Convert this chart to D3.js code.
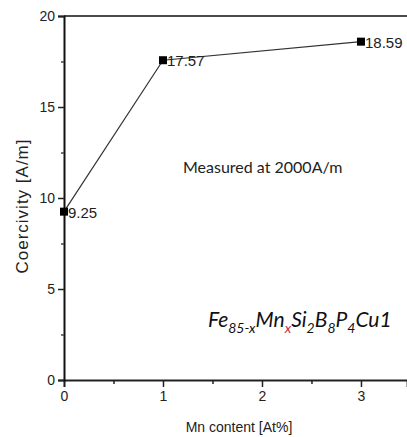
<!DOCTYPE html>
<html><head><meta charset="utf-8">
<script src="https://cdn.jsdelivr.net/npm/d3@7"></script>
<style>body{margin:0;background:#fff}svg{display:block}</style>
</head><body>
<script>
const mnContent = [0, 1, 3];
const coercivity = [9.25, 17.57, 18.59];
const pointLabels = ["9.25", "17.57", "18.59"];
const xTicks = [0, 1, 2, 3];
const yTicks = [0, 5, 10, 15, 20];

const W = 407, H = 437;
const svg = d3.select("body").append("svg").attr("width", W).attr("height", H);
const x = d3.scaleLinear().domain([0, 3.465]).range([64, 407]);
const y = d3.scaleLinear().domain([0, 20]).range([380, 16]);
const tickFont = "Liberation Sans, Arial, sans-serif";

// top border
svg.append("line").attr("x1", x(0)).attr("x2", W).attr("y1", y(20)).attr("y2", y(20))
  .attr("stroke", "#111").attr("stroke-width", 1.6);

// x axis
const xa = svg.append("g").attr("transform", `translate(0,${y(0)})`)
  .call(d3.axisBottom(x).tickValues(xTicks).tickSize(7).tickPadding(4).tickFormat(d3.format("d")));
xa.select(".domain").attr("stroke", "#222").attr("stroke-width", 1.8);
xa.selectAll(".tick line").attr("stroke", "#222").attr("stroke-width", 1.5);
xa.selectAll("text").attr("font-family", tickFont).attr("font-size", 14).attr("fill", "#222");
const xm = svg.append("g").attr("transform", `translate(0,${y(0)})`)
  .call(d3.axisBottom(x).tickValues([0.5, 1.5, 2.5]).tickSize(4).tickFormat(""));
xm.select(".domain").remove();
xm.selectAll(".tick line").attr("stroke", "#222").attr("stroke-width", 1.5);

// y axis
const ya = svg.append("g").attr("transform", `translate(${x(0)},0)`)
  .call(d3.axisLeft(y).tickValues(yTicks).tickSize(6).tickPadding(3).tickFormat(d3.format("d")));
ya.select(".domain").attr("stroke", "#111").attr("stroke-width", 2);
ya.selectAll(".tick line").attr("stroke", "#222").attr("stroke-width", 1.5);
ya.selectAll("text").attr("font-family", tickFont).attr("font-size", 14).attr("fill", "#222");
const ym = svg.append("g").attr("transform", `translate(${x(0)},0)`)
  .call(d3.axisLeft(y).tickValues([2.5, 7.5, 12.5, 17.5]).tickSize(3).tickFormat(""));
ym.select(".domain").remove();
ym.selectAll(".tick line").attr("stroke", "#444").attr("stroke-width", 1.5);

// line
const pts = mnContent.map((d, i) => [d, coercivity[i]]);
svg.append("path").datum(pts)
  .attr("d", d3.line().x(d => x(d[0])).y(d => y(d[1])))
  .attr("fill", "none").attr("stroke", "#333").attr("stroke-width", 1.2);

// markers
svg.selectAll("rect.m").data(pts).enter().append("rect")
  .attr("x", d => x(d[0]) - 4).attr("y", d => y(d[1]) - 4)
  .attr("width", 8).attr("height", 8).attr("fill", "#000");

// labels
svg.selectAll("text.pl").data(pts).enter().append("text")
  .attr("x", d => x(d[0]) + 4).attr("y", d => y(d[1]) + 6)
  .attr("font-family", tickFont).attr("font-size", 15).attr("fill", "#222")
  .text((d, i) => pointLabels[i]);

// axis titles
svg.append("text").attr("transform", `translate(28,206) rotate(-90)`)
  .attr("text-anchor", "middle").attr("font-family", tickFont).attr("font-size", 17)
  .attr("letter-spacing", 1).attr("fill", "#222")
  .text("Coercivity [A/m]");
svg.append("text").attr("x", 239).attr("y", 432)
  .attr("text-anchor", "middle").attr("font-family", tickFont).attr("font-size", 14).attr("fill", "#222")
  .text("Mn content [At%]");

// annotation
svg.append("text").attr("x", 183).attr("y", 173)
  .attr("font-family", "Lato, 'Open Sans', sans-serif").attr("font-size", 16).attr("fill", "#222")
  .text("Measured at 2000A/m");

// formula
const f = svg.append("text").attr("x", 208).attr("y", 327)
  .attr("font-family", "Lato, 'Open Sans', sans-serif").attr("font-style", "italic")
  .attr("font-size", 21).attr("fill", "#111");
const parts = [["Fe", false, null], ["85-x", true, null], ["Mn", false, null], ["x", true, "#c0304a"],
  ["Si", false, null], ["2", true, null], ["B", false, null], ["8", true, null],
  ["P", false, null], ["4", true, null], ["Cu1", false, null]];
let prevSub = false;
parts.forEach(([t, sub, col]) => {
  const ts = f.append("tspan").text(t);
  if (sub) ts.attr("font-size", 14).attr("dy", prevSub ? 0 : 6);
  else ts.attr("dy", prevSub ? -6 : 0);
  if (col) ts.attr("fill", col);
  prevSub = sub;
});
</script>
</body></html>
